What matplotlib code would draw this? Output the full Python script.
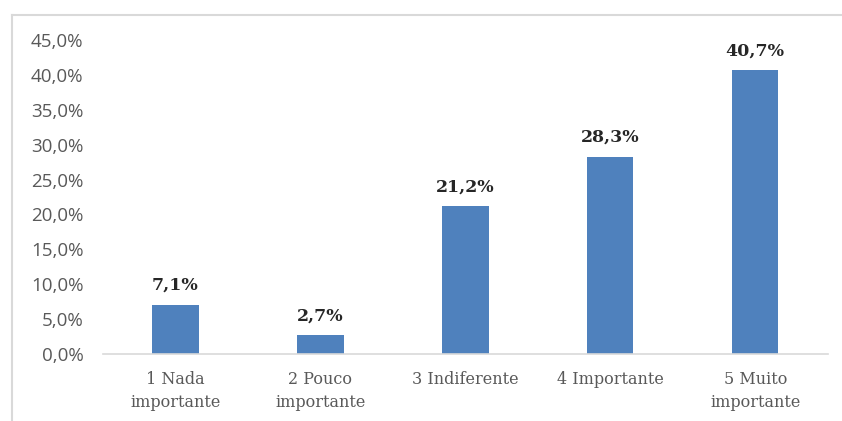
import matplotlib
matplotlib.use("Agg")
import matplotlib.pyplot as plt
from matplotlib.lines import Line2D
from matplotlib.ticker import FuncFormatter

# Importance rating responses (%)
categories = ["1 Nada\nimportante", "2 Pouco\nimportante", "3 Indiferente",
              "4 Importante", "5 Muito\nimportante"]
values = [7.1, 2.7, 21.2, 28.3, 40.7]
yticks = [0, 5, 10, 15, 20, 25, 30, 35, 40, 45]

bar_color = "#4f81bd"
text_color = "#595959"
serif = ["DejaVu Serif"]

fig = plt.figure(figsize=(8.42, 4.21), dpi=100)
ax = fig.add_axes([0.1223, 0.159, 0.8607, 0.746])

x = range(len(categories))
ax.bar(x, values, width=0.32, color=bar_color, zorder=2)

for i, v in enumerate(values):
    ax.text(i, v + 1.5, f"{v:.1f}%".replace(".", ","), ha="center", va="bottom",
            fontsize=12.5, fontweight="bold", family=serif, color="#262626")

ax.set_xlim(-0.5, len(categories) - 0.5)
ax.set_ylim(0, 45)
ax.set_yticks(yticks)
ax.yaxis.set_major_formatter(FuncFormatter(lambda v, p: f"{v:.1f}%".replace(".", ",")))
ax.set_xticks(list(x))
ax.set_xticklabels(categories, family=serif, fontsize=11.5, color=text_color,
                   linespacing=1.45)

for lbl in ax.get_yticklabels():
    lbl.set_family(["Open Sans", "DejaVu Sans"])
    lbl.set_fontsize(13.5)
    lbl.set_color(text_color)

ax.tick_params(axis="both", length=0)
ax.tick_params(axis="y", pad=14)
ax.tick_params(axis="x", pad=12)
for side in ["top", "right", "left"]:
    ax.spines[side].set_visible(False)
ax.spines["bottom"].set_color("#d9d9d9")
ax.spines["bottom"].set_linewidth(1.2)

# outer chart border (top and left edges)
fig.add_artist(Line2D([12 / 842, 1.0], [1 - 15 / 421, 1 - 15 / 421],
                      transform=fig.transFigure, color="#d9d9d9", lw=1.5))
fig.add_artist(Line2D([12 / 842, 12 / 842], [0, 1 - 15 / 421],
                      transform=fig.transFigure, color="#d9d9d9", lw=1.5))

fig.savefig("out.png", dpi=100)
